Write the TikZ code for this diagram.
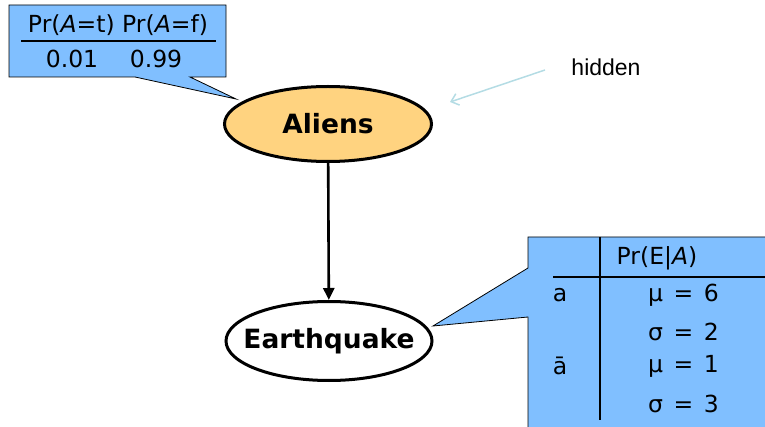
\documentclass[tikz,border=0pt]{standalone}
\usepackage{fontspec}
\setmainfont{DejaVu Sans}
\newfontfamily\arialfont{Liberation Sans}
\usetikzlibrary{shapes.geometric,arrows.meta}
\definecolor{calloutblue}{RGB}{128,191,255}
\definecolor{alienfill}{RGB}{255,211,128}
\definecolor{hintblue}{RGB}{180,220,228}
\begin{document}
\begin{tikzpicture}[x=1pt,y=-1pt,
  bnode/.style={ellipse, draw, line width=3pt, inner sep=0pt, font=\fontsize{26.5}{30}\selectfont\bfseries},
  ctext/.style={font=\fontsize{23.5}{28}\selectfont, inner sep=0pt},
  callout/.style={fill=calloutblue, draw=black, line width=0.8pt},
  rule/.style={line width=1.8pt}]
\clip (0,0) rectangle (765,427);
% callout tips
\coordinate (altip) at (236,99);
\coordinate (eqtip) at (433,326);
% top-left callout
\draw[callout] (9,5) -- (226,5) -- (226,77) -- (190,77) -- (altip) -- (135,77) -- (9,77) -- cycle;
\node[ctext] (hdr) at (118,25) {Pr(\textit{A}=t) Pr(\textit{A}=f)};
\coordinate (ulL) at (21,41);
\coordinate (ulR) at (216,41);
\draw[rule] (ulL) -- (ulR);
\node[ctext] (pt) at (72,59) {0.01};
\node[ctext] (pf) at (156,59) {0.99};
% right callout
\draw[callout] (528,268) -- (528,237) -- (780,237) -- (780,440) -- (528,440) -- (528,317) -- (eqtip) -- cycle;
\coordinate (vT) at (600,237);
\coordinate (vB) at (600,420);
\coordinate (hL) at (553,277);
\coordinate (hR) at (780,277);
\draw[rule] (vT) -- (vB);
\draw[rule] (hL) -- (hR);
\node[ctext] (prea) at (657,258) {Pr(E|\textit{A})};
\node[ctext] (ra) at (560,295) {a};
\node[ctext] (rna) at (560,366) {\=a};
\node[ctext, anchor=west] (m1) at (648,295) {μ\hspace{0.45em}=\hspace{0.45em}6};
\node[ctext, anchor=west] (s1) at (648,332) {σ\hspace{0.45em}=\hspace{0.45em}2};
\node[ctext, anchor=west] (m2) at (648,366) {μ\hspace{0.45em}=\hspace{0.45em}1};
\node[ctext, anchor=west] (s2) at (648,404) {σ\hspace{0.45em}=\hspace{0.45em}3};
% nodes
\node[bnode, fill=alienfill, minimum width=207pt, minimum height=75pt] (al) at (328,124) {\makebox[0pt]{\raisebox{-4pt}{Aliens}}};
\node[bnode, fill=white, minimum width=206pt, minimum height=79pt] (eq) at (329,341) {\makebox[0pt]{\raisebox{-3pt}{Earthquake}}};
\draw[line width=2.6pt, -{Triangle[length=12pt,width=11pt]}] (al) -- (eq);
% hidden label
\node[font=\arialfont\fontsize{23}{27}\selectfont, inner sep=0pt] (hid) at (606,67) {hidden};
\coordinate (hidS) at (545,70);
\coordinate (hidE) at (450,102);
\draw[hintblue, line width=1.5pt, -{Straight Barb[length=7pt,width=12pt]}] (hidS) -- (hidE);
\end{tikzpicture}
\end{document}
